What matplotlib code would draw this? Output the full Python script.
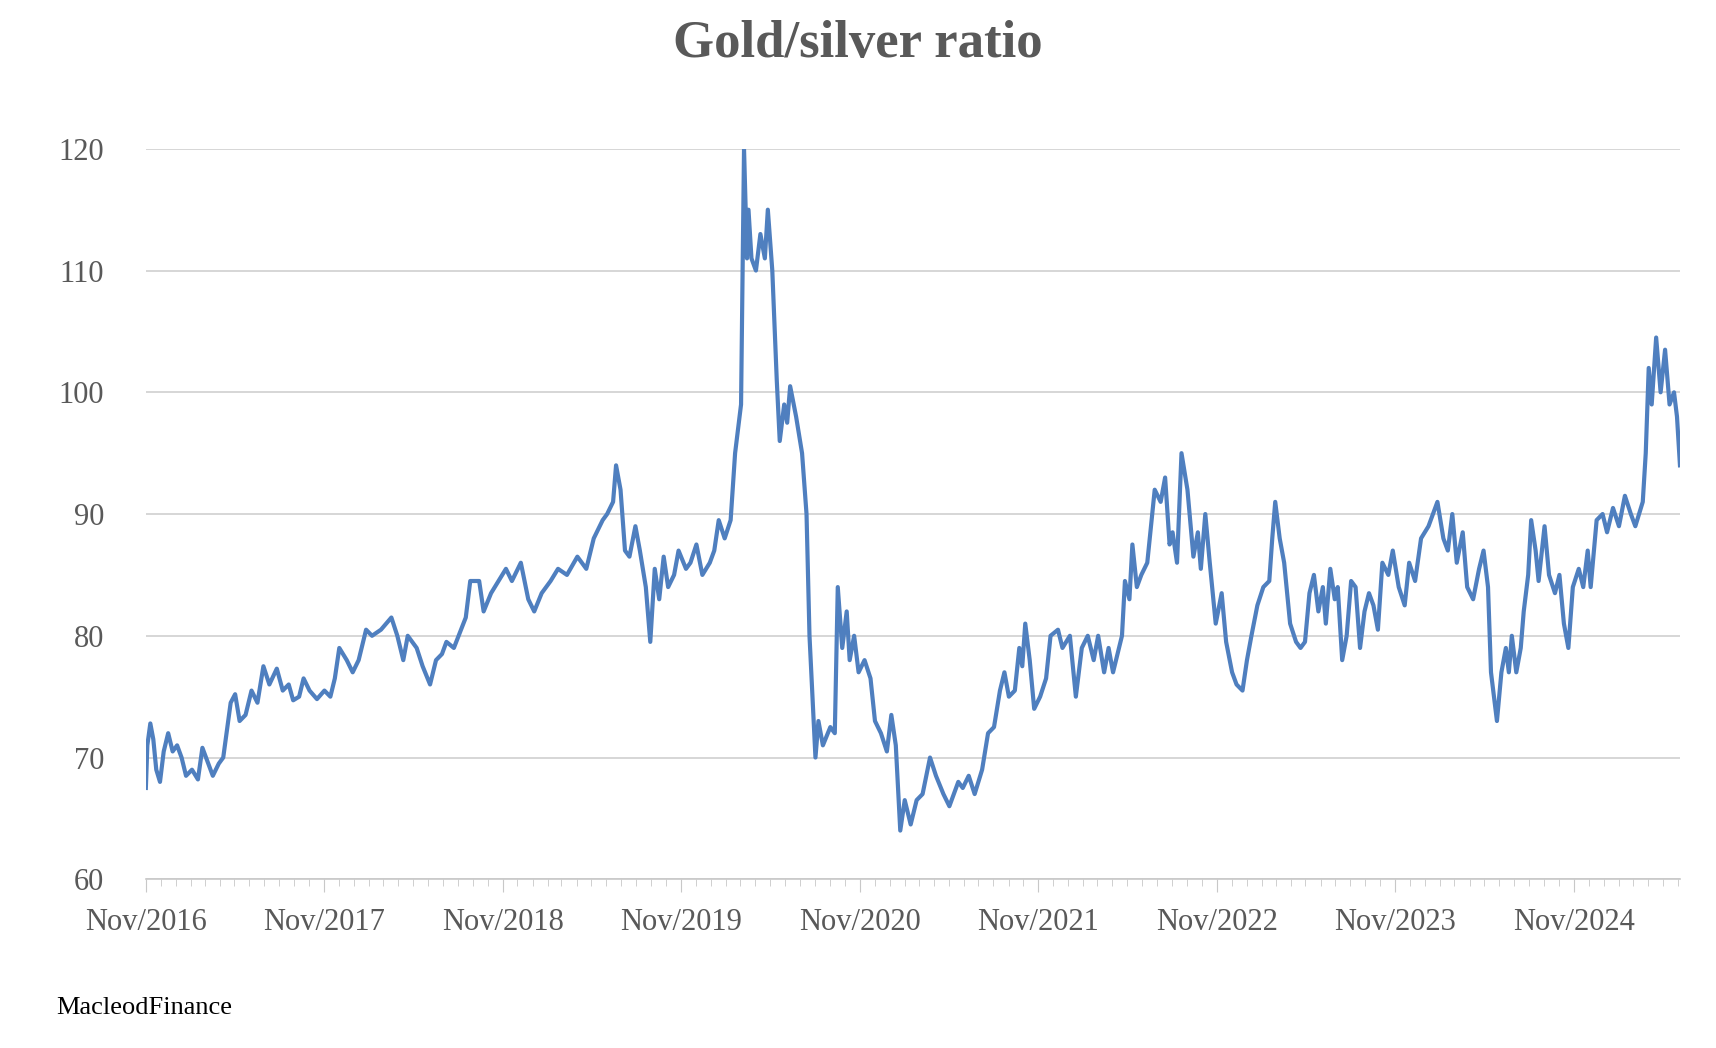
import matplotlib
matplotlib.use("Agg")
import matplotlib.pyplot as plt
import matplotlib.dates as mdates
import numpy as np
import pandas as pd

# months elapsed since 1 Nov 2016, and gold/silver ratio
months = [0,.1,.3,.5,.7,.95,1.2,1.5,1.8,2.1,2.4,2.7,3.1,3.5,3.8,4.2,4.5,4.9,5.2,5.7,6,6.3,6.7,7.1,7.5,7.9,8.3,8.8,9.2,9.6,9.9,10.3,10.6,11,11.5,12,12.4,12.7,13,13.5,13.9,14.3,14.8,15.2,15.8,16.5,16.9,17.3,17.6,18.2,18.6,19.1,19.5,19.9,20.2,20.7,21.5,21.8,22.4,22.7,23.2,23.7,24.2,24.6,25.2,25.7,26.1,26.6,27.2,27.7,28.3,29,29.6,30.1,30.7,31,31.4,31.6,31.9,32.2,32.5,32.9,33.2,33.6,33.9,34.2,34.5,34.8,35.1,35.5,35.8,36.3,36.6,37,37.4,37.9,38.2,38.5,38.9,39.3,39.6,40,40.2,40.4,40.5,40.7,41,41.3,41.6,41.8,42.1,42.4,42.6,42.9,43.1,43.3,43.7,44.1,44.4,44.6,44.8,45,45.2,45.5,46,46.3,46.5,46.8,47.1,47.3,47.6,47.9,48.3,48.7,49,49.4,49.8,50.1,50.4,50.7,51,51.4,51.8,52.2,52.7,53.1,53.6,54,54.6,54.9,55.3,55.7,56.2,56.6,57,57.4,57.7,58,58.4,58.7,58.9,59.1,59.4,59.7,60.1,60.5,60.8,61.3,61.6,62.1,62.5,62.9,63.3,63.7,64,64.4,64.7,65,65.3,65.6,65.8,66.1,66.3,66.6,66.9,67.3,67.8,68.2,68.5,68.8,69,69.3,69.6,70,70.4,70.7,70.9,71.2,71.5,71.9,72.3,72.6,73,73.3,73.7,74,74.3,74.7,75.1,75.5,75.7,75.9,76.2,76.5,76.9,77.3,77.6,77.9,78.2,78.5,78.8,79.1,79.3,79.6,79.9,80.1,80.4,80.7,81,81.3,81.6,81.9,82.2,82.5,82.8,83.1,83.5,83.8,84.2,84.6,84.9,85.3,85.7,86.2,86.8,87.2,87.5,87.8,88.1,88.5,88.8,89.2,89.6,89.9,90.2,90.4,90.8,91.1,91.4,91.6,91.8,92.1,92.4,92.6,92.9,93.1,93.4,93.6,94,94.3,94.7,95,95.3,95.6,95.9,96.3,96.6,96.9,97.1,97.5,97.9,98.2,98.6,99,99.4,99.8,100.1,100.6,100.8,101,101.2,101.5,101.8,102.1,102.4,102.7,102.9,103.1]
ratio = [67.5,71,72.8,71.5,69,68,70.5,72,70.5,71,70,68.5,69,68.2,70.8,69.5,68.5,69.5,70,74.5,75.2,73,73.5,75.5,74.5,77.5,76,77.3,75.5,76,74.7,75,76.5,75.5,74.8,75.5,75,76.5,79,78,77,78,80.5,80,80.5,81.5,80,78,80,79,77.5,76,78,78.5,79.5,79,81.5,84.5,84.5,82,83.5,84.5,85.5,84.5,86,83,82,83.5,84.5,85.5,85,86.5,85.5,88,89.5,90,91,94,92,87,86.5,89,87,84,79.5,85.5,83,86.5,84,85,87,85.5,86,87.5,85,86,87,89.5,88,89.5,95,99,120,111,115,111,110,113,111,115,110,101,96,99,97.5,100.5,98,95,90,80,75,70,73,71,72.5,72,84,79,82,78,80,77,78,76.5,73,72,70.5,73.5,71,64,66.5,64.5,66.5,67,70,68.5,67,66,68,67.5,68.5,67,69,72,72.5,75.5,77,75,75.5,79,77.5,81,78,74,75,76.5,80,80.5,79,80,75,79,80,78,80,77,79,77,78.5,80,84.5,83,87.5,84,85,86,92,91,93,87.5,88.5,86,95,92,86.5,88.5,85.5,90,86,81,83.5,79.5,77,76,75.5,78,80,82.5,84,84.5,88,91,88,86,81,79.5,79,79.5,83.5,85,82,84,81,85.5,83,84,78,80,84.5,84,79,82,83.5,82.5,80.5,86,85,87,84,82.5,86,84.5,88,89,91,88,87,90,86,88.5,84,83,85.5,87,84,77,73,77,79,77,80,77,79,82,85,89.5,87,84.5,89,85,83.5,85,81,79,84,85.5,84,87,84,89.5,90,88.5,90.5,89,91.5,90,89,91,95,102,99,104.5,100,103.5,99,100,98,94]
start_date = "2016-11-01"
yticks = [60, 70, 80, 90, 100, 110, 120]

dates = pd.Timestamp(start_date) + pd.to_timedelta(np.array(months) * 30.44, unit="D")

serif = "Liberation Serif"
fig = plt.figure(figsize=(17.16, 10.48), dpi=100)
ax = fig.add_axes([0.085, 0.161, 0.894, 0.697])
ax.plot(dates, ratio, color="#4f7fbf", lw=3, solid_joinstyle="round")
ax.set_ylim(60, 120)
ax.set_xlim(pd.Timestamp(start_date), dates[-1])
ax.set_yticks(yticks)
ax.yaxis.grid(True, color="#d0d0d0", lw=1.2)
ax.set_axisbelow(True)
for s in ["top", "right", "left"]:
    ax.spines[s].set_visible(False)
ax.spines["bottom"].set_color("#c8c8c8")
ax.spines["bottom"].set_linewidth(1.2)
ax.xaxis.set_major_locator(mdates.MonthLocator(bymonth=11))
ax.xaxis.set_major_formatter(mdates.DateFormatter("%b/%Y"))
ax.xaxis.set_minor_locator(mdates.MonthLocator())
ax.tick_params(axis="x", which="major", length=9, color="#c8c8c8", labelsize=22, labelcolor="#595959", pad=12)
ax.tick_params(axis="x", which="minor", length=5, color="#c8c8c8")
ax.tick_params(axis="y", length=0, labelsize=22, labelcolor="#595959", pad=30)
for lab in ax.get_xticklabels() + ax.get_yticklabels():
    lab.set_fontfamily(serif)
fig.text(0.5, 0.958, "Gold/silver ratio", ha="center", va="center", fontsize=38,
         fontweight="bold", color="#595959", family=serif)
fig.text(0.033, 0.038, "MacleodFinance", ha="left", va="center", fontsize=19,
         color="black", family=serif)
fig.savefig("out.png", dpi=100)
